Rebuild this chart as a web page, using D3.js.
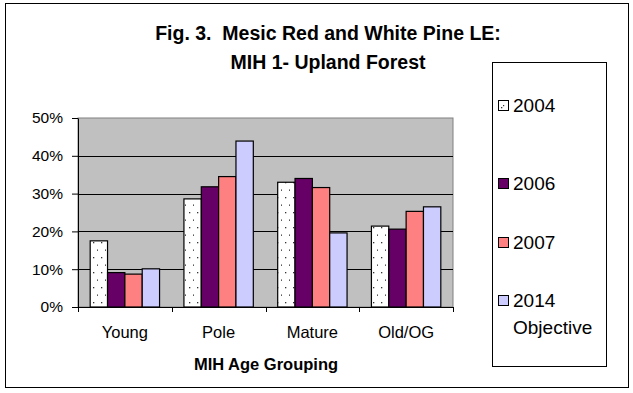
<!DOCTYPE html>
<html><head><meta charset="utf-8">
<script src="https://cdn.jsdelivr.net/npm/d3@7"></script>
<style>body{margin:0;background:#fff}svg{display:block;font-family:"Liberation Sans",Arial,sans-serif}</style>
</head><body>
<svg id="c" width="633" height="393"></svg>
<script>
const categories = ["Young", "Pole", "Mature", "Old/OG"];
const seriesNames = ["2004", "2006", "2007", "2014 Objective"];
const v2004 = [0.175, 0.286, 0.330, 0.214];
const v2006 = [0.091, 0.318, 0.340, 0.206];
const v2007 = [0.087, 0.345, 0.316, 0.253];
const v2014 = [0.101, 0.439, 0.196, 0.265];
const yTicks = [0, 0.1, 0.2, 0.3, 0.4, 0.5];
const titleLines = ["Fig. 3.\u00a0 Mesic Red and White Pine LE:", "MIH 1- Upland Forest"];
const xTitle = "MIH Age Grouping";
const colors = ["url(#dots)", "#660066", "#FF8080", "#CCCCFF"];
const seriesValues = [v2004, v2006, v2007, v2014];

const svg = d3.select("#c");
const defs = svg.append("defs");
const pat = defs.append("pattern").attr("id","dots").attr("patternUnits","userSpaceOnUse")
  .attr("width",8).attr("height",15).attr("x",90).attr("y",0);
pat.append("rect").attr("width",8).attr("height",15).attr("fill","#fff");
pat.append("rect").attr("x",3).attr("y",2).attr("width",1.3).attr("height",1.3).attr("fill","#333");
pat.append("rect").attr("x",7).attr("y",9.5).attr("width",1.3).attr("height",1.3).attr("fill","#333");

// outer frame
svg.append("rect").attr("x",5.5).attr("y",3.5).attr("width",623).attr("height",384)
  .attr("fill","#fff").attr("stroke","#000").attr("stroke-width",1);

const L = 78, R = 453, T = 118, B = 307;
const x0 = d3.scaleBand().domain(categories).range([L, R]).paddingInner(0.26).paddingOuter(0.13);
const x1 = d3.scaleBand().domain(seriesNames).range([0, x0.bandwidth()]);
const y = d3.scaleLinear().domain([0, 0.5]).range([B, T]);

svg.append("rect").attr("x",L).attr("y",T).attr("width",R-L).attr("height",B-T)
  .attr("fill","#C0C0C0").attr("stroke","#808080");

svg.append("g").selectAll("line").data(yTicks.slice(1,-1)).join("line")
  .attr("x1",L).attr("x2",R).attr("y1",d=>Math.round(y(d))+0.5).attr("y2",d=>Math.round(y(d))+0.5)
  .attr("stroke","#000").attr("stroke-width",1);

// bars
const g = svg.append("g");
categories.forEach((c, ci) => {
  seriesNames.forEach((s, si) => {
    const v = seriesValues[si][ci];
    g.append("rect")
      .attr("x", x0(c) + x1(s))
      .attr("y", y(v))
      .attr("width", x1.bandwidth())
      .attr("height", B - y(v))
      .attr("fill", colors[si])
      .attr("stroke", "#000").attr("stroke-width", 1.2);
  });
});

// y axis
const yAxis = d3.axisLeft(y).tickValues(yTicks).tickFormat(d3.format(".0%")).tickSize(6).tickSizeOuter(0);
const ya = svg.append("g").attr("transform",`translate(${L},0)`).call(yAxis);
ya.select(".domain").attr("stroke","#000");
ya.selectAll("line").attr("stroke","#000");
ya.selectAll("text").attr("font-size",15.5).attr("fill","#000").attr("x",-15).attr("font-family","Liberation Sans, Arial, sans-serif");

// x axis with ticks at category boundaries
svg.append("line").attr("x1",L).attr("x2",R).attr("y1",B+0.5).attr("y2",B+0.5).attr("stroke","#000");
const bounds = d3.range(categories.length+1).map(i => L + i*(R-L)/categories.length);
svg.append("g").selectAll("line").data(bounds).join("line")
  .attr("x1",d=>Math.round(d)+0.5).attr("x2",d=>Math.round(d)+0.5).attr("y1",B).attr("y2",B+5).attr("stroke","#000");
svg.append("g").selectAll("text").data(categories).join("text")
  .attr("x",d=>x0(d)+x0.bandwidth()/2).attr("y",338).attr("text-anchor","middle")
  .attr("font-size",16.5).text(d=>d);
svg.append("text").attr("x",266).attr("y",370).attr("text-anchor","middle")
  .attr("font-size",16.5).attr("font-weight","bold").text(xTitle);

// title
titleLines.forEach((t, i) => {
  svg.append("text").attr("x",328).attr("y",40 + i*29).attr("text-anchor","middle")
    .attr("font-size",19.5).attr("font-weight","bold").text(t);
});

// legend
svg.append("rect").attr("x",492.5).attr("y",62.5).attr("width",114).attr("height",304)
  .attr("fill","#fff").attr("stroke","#000");
const legY = [106, 184, 243, 301];
seriesNames.forEach((s, i) => {
  svg.append("rect").attr("x",498.5).attr("y",legY[i]-5.5).attr("width",10).attr("height",10)
    .attr("fill", colors[i]).attr("stroke","#000");
  if (i === 0) svg.append("rect").attr("x",503).attr("y",legY[i]-1).attr("width",1.2).attr("height",1.2).attr("fill","#333");
  const parts = s.split(" ");
  parts.forEach((p, k) => {
    svg.append("text").attr("x",513).attr("y",legY[i]+6+k*27).attr("font-size",19).text(p);
  });
});
</script>
</body></html>
